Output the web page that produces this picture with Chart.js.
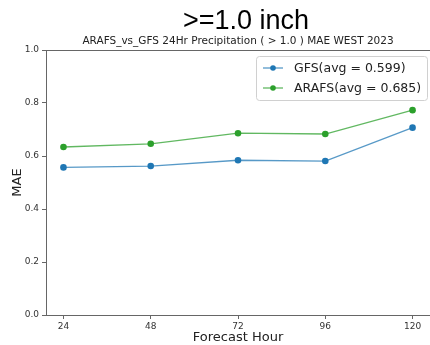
<!DOCTYPE html>
<html><head><meta charset="utf-8">
<script src="https://cdn.jsdelivr.net/npm/chart.js@4/dist/chart.umd.min.js"></script>
<style>html,body{margin:0;padding:0;background:#fff}#wrap{width:430px;height:345px}</style>
</head><body><div id="wrap"><canvas id="c" width="430" height="345"></canvas></div>
<script>
const hours = [24, 48, 72, 96, 120];
const gfs = [0.557, 0.562, 0.584, 0.581, 0.707];
const arafs = [0.634, 0.646, 0.686, 0.683, 0.773];
const seriesNames = ['GFS(avg = 0.599)', 'ARAFS(avg = 0.685)'];
const yTicks = [0.0, 0.2, 0.4, 0.6, 0.8, 1.0];
const mainTitle = '>=1.0 inch';
const subTitle = 'ARAFS_vs_GFS 24Hr Precipitation ( > 1.0 ) MAE WEST 2023';

const blue = '#1f77b4', green = '#2ca02c';
const F = '"DejaVu Sans", sans-serif';

const overlay = {
  id: 'overlay',
  afterDraw(chart) {
    const ctx = chart.ctx, a = chart.chartArea;
    ctx.save();
    ctx.strokeStyle = '#666'; ctx.lineWidth = 1;
    ctx.beginPath();
    ctx.moveTo(a.left, a.top + 0.5); ctx.lineTo(a.right, a.top + 0.5);
    ctx.stroke();
    ctx.fillStyle = '#000';
    ctx.textAlign = 'center'; ctx.textBaseline = 'alphabetic';
    ctx.font = '27px "Liberation Sans", Arial, sans-serif';
    ctx.fillText(mainTitle, 246, 29);
    ctx.fillStyle = '#222';
    ctx.font = '10.5px ' + F;
    ctx.fillText(subTitle, 238, 44);
    const bx = 256, by = 56, bw = 171, bh = 44;
    ctx.fillStyle = 'rgba(255,255,255,0.85)';
    ctx.strokeStyle = '#d0d0d0';
    ctx.beginPath();
    ctx.roundRect(bx + 0.5, by + 0.5, bw, bh, 3);
    ctx.fill(); ctx.stroke();
    chart.data.datasets.forEach((ds, i) => {
      const y = by + 12 + i * 20;
      ctx.strokeStyle = ds.borderColor; ctx.lineWidth = 1.3;
      ctx.beginPath(); ctx.moveTo(bx + 7, y); ctx.lineTo(bx + 27, y); ctx.stroke();
      ctx.fillStyle = ds.pointBackgroundColor;
      ctx.beginPath(); ctx.arc(bx + 17, y, 2.8, 0, Math.PI * 2); ctx.fill();
      ctx.fillStyle = '#222';
      ctx.font = '12.5px ' + F;
      ctx.textAlign = 'left'; ctx.textBaseline = 'middle';
      ctx.fillText(ds.label, bx + 38, y + 1);
    });
    ctx.restore();
  }
};

new Chart(document.getElementById('c'), {
  type: 'line',
  data: {
    datasets: [
      { label: seriesNames[0], data: hours.map((h, i) => ({x: h, y: gfs[i]})),
        borderColor: 'rgba(31,119,180,0.75)', pointBackgroundColor: blue, pointBorderColor: blue,
        borderWidth: 1.3, pointRadius: 3.3, pointBorderWidth: 0, tension: 0, clip: false },
      { label: seriesNames[1], data: hours.map((h, i) => ({x: h, y: arafs[i]})),
        borderColor: 'rgba(44,160,44,0.75)', pointBackgroundColor: green, pointBorderColor: green,
        borderWidth: 1.3, pointRadius: 3.3, pointBorderWidth: 0, tension: 0, clip: false }
    ]
  },
  options: {
    responsive: false, animation: false, devicePixelRatio: 1,
    layout: { autoPadding: false, padding: { top: 50, right: 0, left: 0, bottom: 0 } },
    plugins: { legend: { display: false }, tooltip: { enabled: false } },
    scales: {
      x: {
        type: 'linear', min: 19.2, max: 124.8,
        afterBuildTicks: s => { s.ticks = hours.map(v => ({ value: v })); },
        afterFit: s => { s.height = 30; s.paddingRight = 0; s.paddingLeft = 0; },
        ticks: { font: { family: F, size: 9 }, color: '#333', padding: 2, maxRotation: 0,
                 callback: v => String(v) },
        grid: { drawOnChartArea: false, tickLength: 4, color: '#666' },
        border: { color: '#666', width: 1 },
        title: { display: true, text: 'Forecast Hour', font: { family: F, size: 13 }, color: '#222',
                 padding: { top: 0, bottom: 0 } }
      },
      y: {
        min: 0, max: 1,
        afterBuildTicks: s => { s.ticks = yTicks.map(v => ({ value: v })); },
        afterFit: s => { s.width = 46; s.paddingTop = 0; s.paddingBottom = 0; },
        ticks: { font: { family: F, size: 9 }, color: '#333', padding: 3,
                 callback: v => Number(v).toFixed(1) },
        grid: { drawOnChartArea: false, tickLength: 4, color: '#666' },
        border: { color: '#666', width: 1 },
        title: { display: true, text: 'MAE', font: { family: F, size: 13 }, color: '#222',
                 padding: { top: 10, bottom: 0 } }
      }
    }
  },
  plugins: [overlay]
});
</script></body></html>
